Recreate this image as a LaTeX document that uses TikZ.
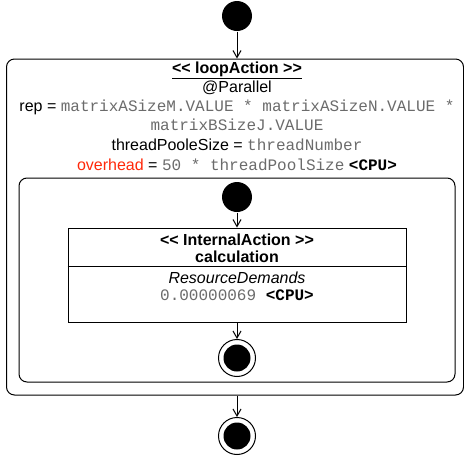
\documentclass[tikz,border=0pt]{standalone}
\usepackage{fontspec}
\setmainfont{Liberation Sans}
\setmonofont{Liberation Mono}
\usetikzlibrary{arrows.meta,positioning}
\definecolor{valgray}{gray}{0.42}
\definecolor{ovred}{RGB}{255,40,10}
\newcommand{\val}[1]{{\color{valgray}\ttfamily #1}}
\newcommand{\cpu}{{\ttfamily\bfseries <CPU>}}
\newcommand{\stereo}[1]{<\kern0pt< #1 >\kern0pt>}

\begin{document}
\begin{tikzpicture}[x=1pt,y=-1pt,line width=1pt,
  every node/.style={font=\fontsize{16}{19}\selectfont,inner sep=0pt,align=center},
  startnode/.style={circle,fill=black,minimum size=30pt},
  endnode/.style={circle,draw,minimum size=37pt,
    path picture={\fill (path picture bounding box.center) circle (13.5pt);}},
  flow/.style={-{Straight Barb[length=7pt,width=8pt]}}]
  \useasboundingbox (0,0) rectangle (464,461);

  \node[startnode] (start) at (237,16) {};

  % loop with its parameters
  \node[draw,rounded corners=8pt,minimum width=457pt,minimum height=336pt] (loop) at (235,227) {};
    \node (looptitle) at (237,70) {\bfseries\underline{\stereo{loopAction}}};
    \node (parallel) at (237,88) {@Parallel};
    \node (rep) at (237,115.5) {rep = \val{matrixASizeM.VALUE * matrixASizeN.VALUE *}\\\val{matrixBSizeJ.VALUE}};
    \node (poolsize) at (237,145) {threadPooleSize = \val{threadNumber}};
    \node (overhead) at (237,165) {\textcolor{ovred}{overhead} = \val{50 * threadPoolSize} \cpu};

  % loop body
  \node[draw,rounded corners=8pt,minimum width=436pt,minimum height=204pt] (body) at (237,280) {};
    \node[startnode] (bodystart) at (237,197) {};

    \node[draw,minimum width=338pt,minimum height=94pt] (calc) at (237,275) {};
    \draw ([yshift=9pt]calc.west) -- ([yshift=9pt]calc.east);
    \node (calctitle) at (237,240) {\bfseries\stereo{InternalAction}};
    \node (calcname) at (237,257) {\bfseries calculation};
    \node (demandlabel) at (237,278) {\itshape ResourceDemands};
    \node (demand) at (237,295) {\val{0.00000069\ }\cpu};

    \node[endnode] (bodyend) at (237,358) {};

  \node[endnode] (stop) at (237,436) {};

  \draw[flow] (start) -- (start |- loop.north);
  \draw[flow] (bodystart) -- (bodystart |- calc.north);
  \draw[flow] (calc) -- (bodyend);
  \draw[flow] (loop.south -| stop) -- (stop);
\end{tikzpicture}
\end{document}
